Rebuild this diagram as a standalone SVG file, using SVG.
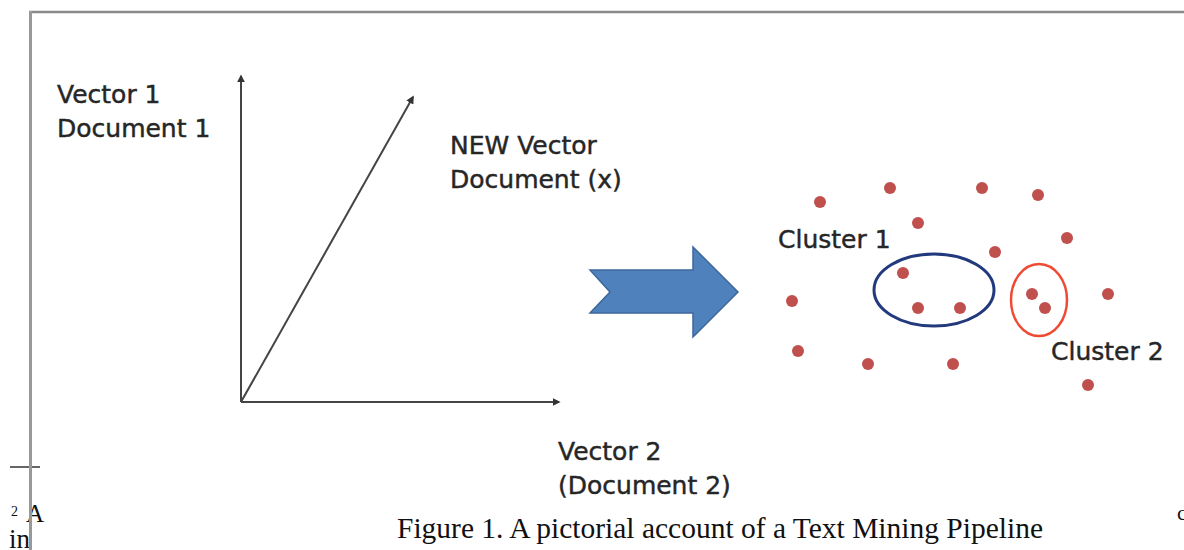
<svg xmlns="http://www.w3.org/2000/svg" width="1184" height="550" viewBox="0 0 1184 550">
<style>
.lbl{font-family:"DejaVu Sans",Verdana,sans-serif;font-size:25px;fill:#262626;stroke:#262626;stroke-width:0.45}
.serif{font-family:"Liberation Serif","Times New Roman",serif;fill:#111}
.dot{fill:#C0504D}
.axis{stroke:#444;stroke-width:2;fill:none}
</style>
<defs>
<marker id="ah" viewBox="0 0 10 10" refX="8" refY="5" markerWidth="4" markerHeight="4" orient="auto" markerUnits="strokeWidth">
<path d="M0,0 L10,5 L0,10 z" fill="#333"/>
</marker>
</defs>
<rect width="1184" height="550" fill="#fff"/>
<g id="page-fragments">
<line x1="10" y1="467" x2="40" y2="467" stroke="#666" stroke-width="2"/>
<text class="serif" x="11" y="516" font-size="14">2</text>
<text class="serif" x="26" y="522" font-size="25">A</text>
<text class="serif" x="9" y="548" font-size="27">in</text>
<text class="serif" x="1177" y="520" font-size="22">c</text>
</g>
<g id="frame">
<line x1="29" y1="12" x2="1184" y2="12" stroke="#8a8a8a" stroke-width="2.5"/>
<line x1="30.5" y1="11" x2="30.5" y2="550" stroke="#999" stroke-width="3"/>
</g>
<g id="connectors">
<line class="axis" x1="241" y1="402" x2="241" y2="76" marker-end="url(#ah)"/>
<line class="axis" x1="241" y1="402" x2="559" y2="402" marker-end="url(#ah)"/>
<line class="axis" x1="241" y1="402" x2="413" y2="97" marker-end="url(#ah)"/>
</g>
<g id="label-vector1">
<text class="lbl" x="57" y="103">Vector 1</text>
<text class="lbl" x="57" y="137">Document 1</text>
</g>
<g id="label-new-vector">
<text class="lbl" x="450" y="154">NEW Vector</text>
<text class="lbl" x="450" y="188">Document (x)</text>
</g>
<g id="label-vector2">
<text class="lbl" x="558" y="460">Vector 2</text>
<text class="lbl" x="558" y="494">(Document 2)</text>
</g>
<g id="block-arrow">
<path d="M590,270 L693,270 L693,247 L738,292 L693,337 L693,313 L590,313 L610,292 Z" fill="#4F81BD" stroke="#3C679B" stroke-width="1.5"/>
</g>
<g id="points">
<circle class="dot" cx="820" cy="202" r="6"/>
<circle class="dot" cx="890" cy="188" r="6"/>
<circle class="dot" cx="982" cy="188" r="6"/>
<circle class="dot" cx="1038" cy="195" r="6"/>
<circle class="dot" cx="918" cy="223" r="6"/>
<circle class="dot" cx="1067" cy="238" r="6"/>
<circle class="dot" cx="995" cy="252" r="6"/>
<circle class="dot" cx="792" cy="301" r="6"/>
<circle class="dot" cx="1108" cy="294" r="6"/>
<circle class="dot" cx="798" cy="351" r="6"/>
<circle class="dot" cx="868" cy="364" r="6"/>
<circle class="dot" cx="953" cy="364" r="6"/>
<circle class="dot" cx="1088" cy="385" r="6"/>
</g>
<g id="cluster-1">
<ellipse cx="934" cy="290" rx="60" ry="36" fill="none" stroke="#23397E" stroke-width="3"/>
<circle class="dot" cx="903" cy="273" r="6"/>
<circle class="dot" cx="918" cy="308" r="6"/>
<circle class="dot" cx="960" cy="308" r="6"/>
<text class="lbl" x="778" y="248">Cluster 1</text>
</g>
<g id="cluster-2">
<ellipse cx="1039" cy="300" rx="28" ry="36" fill="none" stroke="#EE4B35" stroke-width="2.5"/>
<circle class="dot" cx="1032" cy="294" r="6"/>
<circle class="dot" cx="1045" cy="308" r="6"/>
<text class="lbl" x="1051" y="360">Cluster 2</text>
</g>
<g id="caption">
<text class="serif" x="397" y="538" font-size="30" textLength="646" lengthAdjust="spacingAndGlyphs">Figure 1. A pictorial account of a Text Mining Pipeline</text>
</g>
</svg>
